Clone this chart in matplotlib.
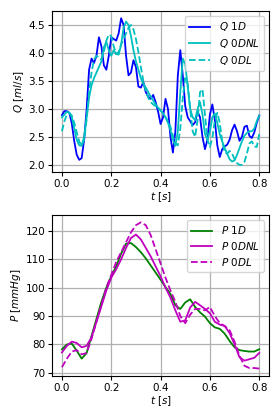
import numpy as np
import matplotlib
matplotlib.use("Agg")
import matplotlib.pyplot as plt

# time grids
t_q = [round(0.01 * i, 2) for i in range(81)]
t_p = [round(0.02 * i, 2) for i in range(41)]

q_1d = [2.89, 2.96, 2.96, 2.93, 2.74, 2.42, 2.18, 2.09, 2.12, 2.45,
        2.98, 3.70, 3.90, 3.82, 3.95, 4.28, 4.12, 3.78, 3.70, 3.95,
        4.28, 4.25, 4.22, 4.35, 4.62, 4.50, 3.95, 3.60, 3.65, 3.87,
        3.75, 3.40, 3.38, 3.48, 3.30, 3.22, 3.18, 3.25, 3.12, 2.95,
        2.73, 2.85, 3.18, 3.00, 2.50, 2.22, 2.60, 3.60, 4.05, 3.60,
        3.05, 2.85, 2.78, 2.71, 2.76, 2.95, 2.85, 2.50, 2.28, 2.45,
        2.90, 3.08, 2.80, 2.35, 2.14, 2.28, 2.33, 2.36, 2.45, 2.62,
        2.72, 2.60, 2.43, 2.50, 2.68, 2.70, 2.52, 2.48, 2.58, 2.75,
        2.88]

q_0dnl = [2.85, 2.90, 2.95, 2.93, 2.85, 2.65, 2.45, 2.35, 2.34, 2.50,
          2.85, 3.20, 3.42, 3.55, 3.65, 3.75, 3.85, 4.10, 4.20, 4.05,
          3.95, 4.05, 3.98, 3.97, 4.15, 4.45, 4.56, 4.50, 4.30, 4.05,
          3.85, 3.70, 3.55, 3.45, 3.38, 3.30, 3.22, 3.15, 3.08, 3.02,
          2.97, 2.92, 2.85, 2.75, 2.62, 2.45, 2.34, 2.60, 3.30, 3.90,
          3.80, 3.40, 3.00, 2.85, 2.80, 3.00, 3.12, 2.90, 2.55, 2.45,
          2.60, 2.85, 2.92, 2.75, 2.55, 2.42, 2.30, 2.20, 2.10, 2.06,
          2.08, 2.18, 2.30, 2.42, 2.52, 2.57, 2.60, 2.60, 2.65, 2.78,
          2.88]

q_0dl = [2.60, 2.78, 2.90, 2.93, 2.88, 2.75, 2.58, 2.42, 2.34, 2.45,
         2.80, 3.30, 3.65, 3.88, 3.95, 3.92, 3.88, 4.02, 4.22, 4.33,
         4.30, 4.12, 3.98, 4.02, 4.15, 4.25, 4.35, 4.45, 4.50, 4.42,
         4.25, 4.02, 3.75, 3.50, 3.32, 3.20, 3.12, 3.08, 3.05, 3.02,
         2.98, 2.92, 2.85, 2.78, 2.68, 2.52, 2.38, 2.35, 2.65, 3.20,
         3.55, 3.45, 3.00, 2.60, 2.50, 2.80, 3.30, 3.35, 2.90, 2.45,
         2.32, 2.48, 2.80, 2.93, 2.75, 2.42, 2.22, 2.20, 2.25, 2.20,
         2.10, 2.03, 2.00, 2.00, 2.05, 2.20, 2.38, 2.42, 2.33, 2.32,
         2.55]

p_1d = [78.3, 80.0, 80.3, 77.8, 75.0, 77.0, 83.0, 89.0, 95.0, 100.0,
        104.0, 107.5, 112.0, 115.5, 115.7, 114.3, 112.5, 110.3, 107.8, 105.3,
        102.8, 100.2, 97.8, 93.8, 92.5, 94.8, 95.9, 93.2, 91.3, 89.8,
        87.5, 86.0, 85.5, 83.8, 81.2, 79.0, 78.0, 77.7, 77.5, 77.5,
        78.3]

p_0dnl = [77.2, 79.5, 81.0, 80.5, 79.0, 79.5, 82.5, 88.0, 93.5, 99.0,
          103.5, 106.5, 110.0, 114.0, 117.5, 118.7, 117.0, 114.0, 111.0, 107.5,
          104.0, 100.0, 96.5, 92.0, 88.0, 88.5, 93.0, 95.0, 93.8, 92.5,
          91.0, 88.0, 87.0, 86.5, 84.0, 80.0, 75.5, 74.3, 74.8, 75.3,
          77.0]

p_0dl = [72.0, 75.0, 77.5, 78.0, 76.5, 77.0, 82.0, 88.0, 94.0, 100.0,
         104.5, 109.0, 112.5, 116.0, 119.5, 122.0, 123.0, 122.0, 118.5, 113.5,
         108.5, 103.5, 99.0, 95.0, 90.0, 87.5, 90.5, 92.5, 92.5, 92.0,
         93.2, 90.0, 87.5, 86.5, 85.0, 81.0, 76.0, 72.5, 71.7, 71.7,
         71.5]

x_ticks = [0.0, 0.2, 0.4, 0.6, 0.8]
q_ticks = [2.0, 2.5, 3.0, 3.5, 4.0, 4.5]
p_ticks = [70, 80, 90, 100, 110, 120]

fs = 7.5
fig = plt.figure(figsize=(2.8, 4.2), dpi=100)
ax1 = fig.add_axes([0.186, 0.590, 0.775, 0.384])
ax2 = fig.add_axes([0.186, 0.105, 0.775, 0.383])

ax1.plot(t_q, q_1d, color='b', lw=1.3, label=r'$Q\ 1D$')
ax1.plot(t_q, q_0dnl, color='c', lw=1.3, label=r'$Q\ 0DNL$')
ax1.plot(t_q, q_0dl, color='c', ls='--', lw=1.3, label=r'$Q\ 0DL$')
ax1.set_ylabel(r'$Q\ [ml/s]$', fontsize=fs, labelpad=2)
ax1.set_xlabel(r'$t\ [s]$', fontsize=fs, labelpad=1)
ax1.set_xticks(x_ticks)
ax1.set_yticks(q_ticks)

ax2.plot(t_p, p_1d, color='g', lw=1.3, label=r'$P\ 1D$')
ax2.plot(t_p, p_0dnl, color='m', lw=1.3, label=r'$P\ 0DNL$')
ax2.plot(t_p, p_0dl, color='m', ls='--', lw=1.3, label=r'$P\ 0DL$')
ax2.set_ylabel(r'$P\ [mmHg]$', fontsize=fs, labelpad=2)
ax2.set_xlabel(r'$t\ [s]$', fontsize=fs, labelpad=1)
ax2.set_xticks(x_ticks)
ax2.set_yticks(p_ticks)

for ax in (ax1, ax2):
    ax.grid(True, color='#b0b0b0', lw=0.9)
    ax.tick_params(labelsize=fs, length=3, pad=2)
    ax.legend(loc='upper right', fontsize=fs, handlelength=2.0,
              borderpad=0.4, labelspacing=0.35, handletextpad=0.8)

fig.savefig('out.png', dpi=100)
